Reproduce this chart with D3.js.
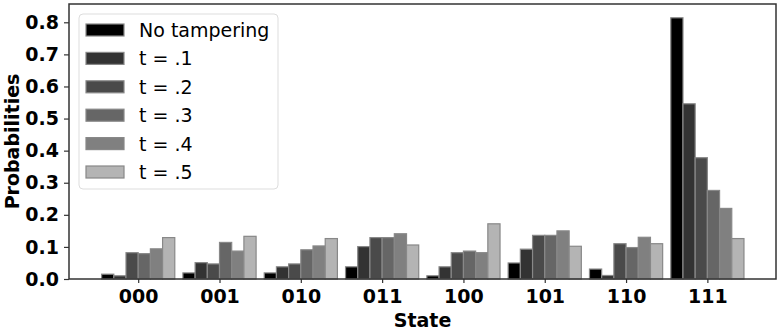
<!DOCTYPE html>
<html>
<head>
<meta charset="utf-8">
<script src="https://cdn.jsdelivr.net/npm/d3@7"></script>
<style>
  body { margin: 0; background: #fff; }
  text { font-family: "DejaVu Sans", sans-serif; }
</style>
</head>
<body>
<script>
const states = ["000", "001", "010", "011", "100", "101", "110", "111"];
const seriesNames = ["No tampering", "t = .1", "t = .2", "t = .3", "t = .4", "t = .5"];
const noTampering = [0.015, 0.019, 0.019, 0.038, 0.010, 0.050, 0.031, 0.814];
const t1 = [0.010, 0.051, 0.038, 0.101, 0.038, 0.093, 0.011, 0.546];
const t2 = [0.082, 0.047, 0.047, 0.129, 0.082, 0.136, 0.110, 0.378];
const t3 = [0.079, 0.114, 0.091, 0.129, 0.087, 0.136, 0.098, 0.276];
const t4 = [0.094, 0.087, 0.103, 0.141, 0.082, 0.150, 0.130, 0.220];
const t5 = [0.129, 0.133, 0.126, 0.106, 0.172, 0.102, 0.110, 0.126];
const yTicks = [0.0, 0.1, 0.2, 0.3, 0.4, 0.5, 0.6, 0.7, 0.8];

const seriesValues = [noTampering, t1, t2, t3, t4, t5];
const fills = ["#000000", "#333333", "#4a4a4a", "#666666", "#808080", "#b4b4b4"];

const width = 780, height = 331;
const plotLeft = 69, plotRight = 776, plotTop = 4, plotBottom = 279;
const barW = 0.15;

const svg = d3.select("body").append("svg")
  .attr("width", width)
  .attr("height", height);

const x = d3.scaleLinear().domain([-0.851, 7.844]).range([plotLeft, plotRight]);
const y = d3.scaleLinear().domain([0, 0.857]).range([plotBottom, plotTop]);

// bars
const bars = [];
seriesValues.forEach((vals, s) => {
  vals.forEach((v, i) => bars.push({ s: s, i: i, v: v }));
});
svg.append("g")
  .selectAll("rect")
  .data(bars)
  .enter()
  .append("rect")
  .attr("x", d => x(d.i - 0.45 + d.s * barW))
  .attr("width", d => x(barW) - x(0))
  .attr("y", d => y(d.v))
  .attr("height", d => y(0) - y(d.v))
  .attr("fill", d => fills[d.s])
  .attr("stroke", "#888")
  .attr("stroke-width", 1.2);

// axes
const xAxis = d3.axisBottom(x)
  .tickValues(d3.range(states.length))
  .tickFormat(i => states[i])
  .tickSizeInner(4)
  .tickSizeOuter(0)
  .tickPadding(7);
const gx = svg.append("g")
  .attr("transform", `translate(0,${plotBottom})`)
  .call(xAxis);
gx.select(".domain").remove();
gx.selectAll("text").attr("font-size", 19).attr("font-weight", "bold")
  .attr("font-family", "DejaVu Sans").attr("fill", "#000");
gx.selectAll("line").attr("stroke", "#333").attr("stroke-width", 1.2);

const yAxis = d3.axisLeft(y)
  .tickValues(yTicks)
  .tickFormat(d3.format(".1f"))
  .tickSizeInner(5)
  .tickSizeOuter(0)
  .tickPadding(5);
const gy = svg.append("g")
  .attr("transform", `translate(${plotLeft},0)`)
  .call(yAxis);
gy.select(".domain").remove();
gy.selectAll("text").attr("font-size", 19).attr("font-weight", "bold")
  .attr("font-family", "DejaVu Sans").attr("fill", "#000");
gy.selectAll("line").attr("stroke", "#333").attr("stroke-width", 1.2);

// frame
svg.append("rect")
  .attr("x", plotLeft).attr("y", plotTop)
  .attr("width", plotRight - plotLeft).attr("height", plotBottom - plotTop)
  .attr("fill", "none")
  .attr("stroke", "#333")
  .attr("stroke-width", 1.5);

// axis labels
svg.append("text")
  .attr("x", (plotLeft + plotRight) / 2)
  .attr("y", 327)
  .attr("text-anchor", "middle")
  .attr("font-size", 19)
  .attr("font-weight", "bold")
  .text("State");

svg.append("text")
  .attr("transform", `translate(19,${(plotTop + plotBottom) / 2}) rotate(-90)`)
  .attr("text-anchor", "middle")
  .attr("font-size", 19)
  .attr("font-weight", "bold")
  .text("Probabilities");

// legend
const legend = svg.append("g").attr("transform", "translate(79,14)");
legend.append("rect")
  .attr("width", 199).attr("height", 175)
  .attr("rx", 4)
  .attr("fill", "#fff")
  .attr("fill-opacity", 0.8)
  .attr("stroke", "#ddd");
const items = legend.selectAll(".legends")
  .data(seriesNames)
  .enter()
  .append("g")
  .attr("class", "legends")
  .attr("transform", (d, i) => `translate(0,${16 + i * 28.4})`);
items.append("rect")
  .attr("x", 7).attr("y", -6)
  .attr("width", 38).attr("height", 12)
  .attr("fill", (d, i) => fills[i])
  .attr("stroke", "#888")
  .attr("stroke-width", 1.2);
items.append("text")
  .attr("x", 60)
  .attr("y", 7)
  .attr("font-size", 19)
  .attr("fill", "#000")
  .text(d => d);
</script>
</body>
</html>
